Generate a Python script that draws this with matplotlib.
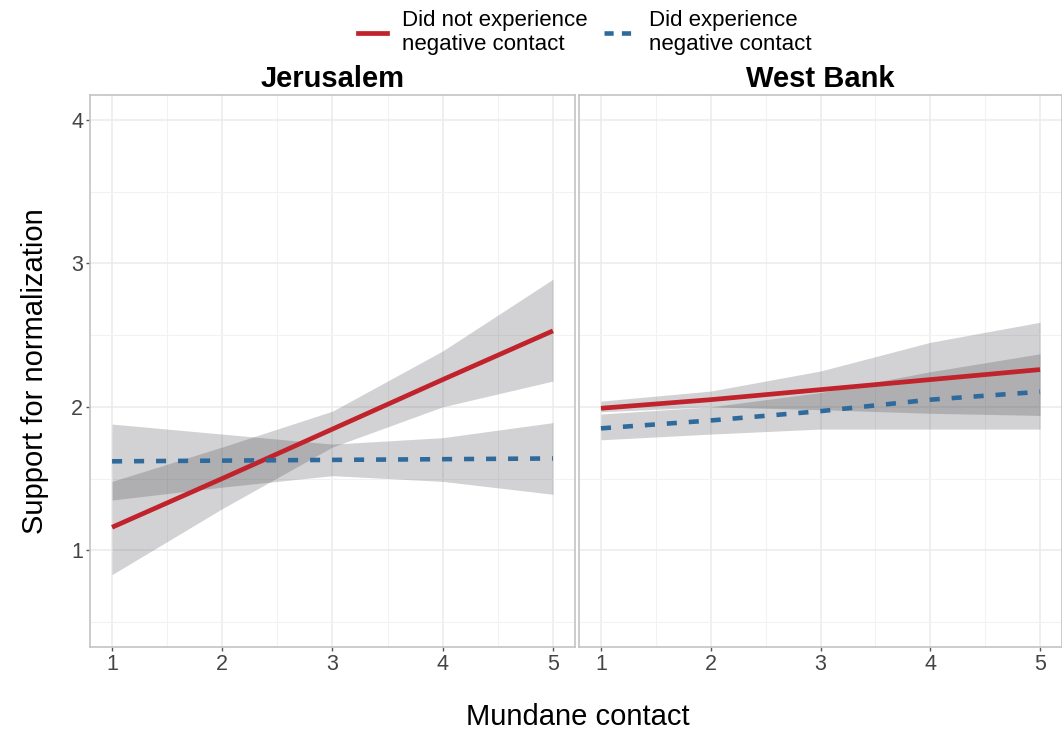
import matplotlib.pyplot as plt
from matplotlib.lines import Line2D

plt.rcParams['font.family'] = ['Liberation Sans', 'DejaVu Sans']

# data
x = [1, 2, 3, 4, 5]
panels = ['Jerusalem', 'West Bank']

# Jerusalem
jer_no_fit = [1.16, 1.50, 1.845, 2.19, 2.53]
jer_no_lo = [0.83, 1.29, 1.72, 2.00, 2.18]
jer_no_hi = [1.48, 1.72, 1.97, 2.39, 2.89]
jer_yes_fit = [1.62, 1.625, 1.63, 1.635, 1.64]
jer_yes_lo = [1.35, 1.44, 1.52, 1.48, 1.39]
jer_yes_hi = [1.88, 1.81, 1.74, 1.785, 1.89]

# West Bank
wb_no_fit = [1.99, 2.05, 2.12, 2.19, 2.26]
wb_no_lo = [1.965, 2.0, 1.98, 1.955, 1.94]
wb_no_hi = [2.04, 2.11, 2.25, 2.45, 2.59]
wb_yes_fit = [1.85, 1.905, 1.97, 2.05, 2.105]
wb_yes_lo = [1.77, 1.81, 1.845, 1.845, 1.845]
wb_yes_hi = [1.95, 2.0, 2.10, 2.245, 2.37]

legend_labels = ['Did not experience\nnegative contact', 'Did experience\nnegative contact']

RED = '#C0232B'
BLUE = '#2E6A9C'
BAND = '#34363c'
GRID = '#EBEBEB'
BORDER = '#C4C4C4'

fig = plt.figure(figsize=(10.62, 7.33), dpi=100)
ax1 = fig.add_axes([90 / 1062, 1 - 647 / 733, 485 / 1062, 552 / 733])
ax2 = fig.add_axes([579 / 1062, 1 - 647 / 733, 483 / 1062, 552 / 733])

data = [
    (jer_no_fit, jer_no_lo, jer_no_hi, jer_yes_fit, jer_yes_lo, jer_yes_hi),
    (wb_no_fit, wb_no_lo, wb_no_hi, wb_yes_fit, wb_yes_lo, wb_yes_hi),
]

for ax, title, (nf, nl, nh, yf, yl, yh) in zip([ax1, ax2], panels, data):
    ax.fill_between(x, nl, nh, color=BAND, alpha=0.22, lw=0)
    ax.fill_between(x, yl, yh, color=BAND, alpha=0.22, lw=0)
    ax.plot(x, nf, color=RED, lw=3.4, solid_capstyle='butt')
    ax.plot(x, yf, color=BLUE, lw=3.3, dashes=(2.2, 2.6), dash_capstyle='butt')

    ax.set_xlim(0.8, 5.2)
    ax.set_ylim(0.325, 4.175)
    ax.set_xticks(x)
    ax.set_xticks([1.5, 2.5, 3.5, 4.5], minor=True)
    ax.set_yticks([1, 2, 3, 4])
    ax.set_yticks([0.5, 1.5, 2.5, 3.5], minor=True)
    ax.grid(which='major', color=GRID, lw=1.1)
    ax.grid(which='minor', color='#F2F2F2', lw=0.8)
    ax.set_axisbelow(True)
    for s in ax.spines.values():
        s.set_color(BORDER)
        s.set_linewidth(1.2)
    ax.tick_params(which='major', length=3, width=1, color='#555555',
                   labelsize=15.5, labelcolor='#444444', pad=2)
    ax.tick_params(which='minor', length=0)
    ax.set_title(title, fontsize=21, fontweight='bold', pad=6)

ax2.tick_params(axis='y', which='both', left=False, labelleft=False)

ax1.set_ylabel('Support for normalization', fontsize=21, labelpad=16)
fig.text(578 / 1062, 1 - 717 / 733, 'Mundane contact', fontsize=21,
         ha='center', va='center')

handles = [
    Line2D([], [], color=RED, lw=3.4),
    Line2D([], [], color=BLUE, lw=3.3, dashes=(2.0, 1.8)),
]
fig.legend(handles, legend_labels, loc='upper center', ncol=2,
           bbox_to_anchor=(0.5505, 1.014), frameon=False, fontsize=16,
           handlelength=1.3, handletextpad=0.7, columnspacing=0.75,
           labelspacing=0.2)

fig.savefig('out.png', dpi=100)
